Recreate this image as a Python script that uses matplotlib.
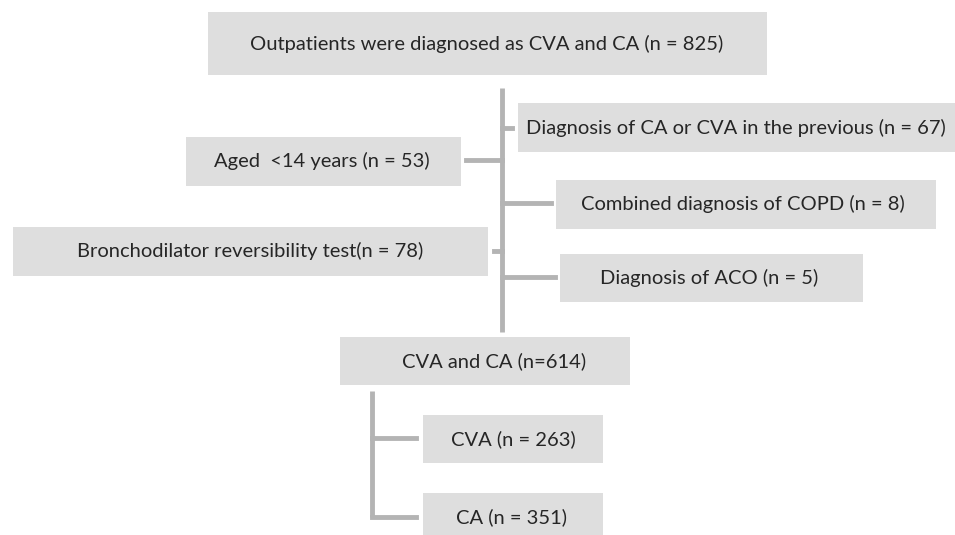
import matplotlib.pyplot as plt
from matplotlib.patches import Rectangle

# flowchart contents
labels = [
    "Outpatients were diagnosed as CVA and CA",
    "Diagnosis of CA or CVA in the previous",
    "Aged  <14 years",
    "Combined diagnosis of COPD",
    "Bronchodilator reversibility test",
    "Diagnosis of ACO",
    "CVA and CA",
    "CVA",
    "CA",
]
counts = [825, 67, 53, 8, 78, 5, 614, 263, 351]
count_fmt = [" (n = {})", " (n = {})", " (n = {})", " (n = {})", "(n = {})",
             " (n = {})", " (n={})", " (n = {})", " (n = {})"]

# box geometry in pixels: x0, y0, x1, y1, text x, text y
boxes = [
    (208, 12, 767, 75, 487, 44),
    (518, 103, 975, 152, 736, 128),
    (186, 137, 461, 186, 322, 161),
    (556, 180, 936, 229, 743, 204),
    (13, 227, 488, 276, 250, 251),
    (560, 254, 863, 302, 709, 278),
    (340, 337, 630, 385, 494, 361),
    (423, 415, 603, 463, 513, 439),
    (423, 493, 603, 560, 511, 517),
]

fill = "#dedede"
line_c = "#b4b4b4"
txt_c = "#262626"

fig = plt.figure(figsize=(9.55, 5.35), dpi=100)
ax = fig.add_axes([0, 0, 1, 1])
ax.set_xlim(0, 955)
ax.set_ylim(535, 0)
ax.axis("off")

for (lab, n, fmt), (x0, y0, x1, y1, tx, ty) in zip(zip(labels, counts, count_fmt), boxes):
    ax.add_patch(Rectangle((x0, y0), x1 - x0, y1 - y0, facecolor=fill,
                           edgecolor="none", zorder=1))
    ax.text(tx, ty, lab + fmt.format(n), ha="center", va="center",
            fontsize=14.5, color=txt_c, family="Lato", zorder=3)

# connectors
lw = 3.5
ax.plot([502, 502], [88, 332], color=line_c, lw=lw, solid_capstyle="butt", zorder=2)
ax.plot([502, 512], [128, 128], color=line_c, lw=lw, zorder=2)
ax.plot([466, 502], [160, 160], color=line_c, lw=lw, zorder=2)
ax.plot([502, 551], [203, 203], color=line_c, lw=lw, zorder=2)
ax.plot([494, 502], [251, 251], color=line_c, lw=lw, zorder=2)
ax.plot([502, 555], [277, 277], color=line_c, lw=lw, zorder=2)
ax.plot([372, 372], [391, 517], color=line_c, lw=lw, solid_capstyle="butt", zorder=2)
ax.plot([372, 416], [438, 438], color=line_c, lw=lw, zorder=2)
ax.plot([372, 416], [517, 517], color=line_c, lw=lw, zorder=2)

fig.savefig("out.png", dpi=100)
